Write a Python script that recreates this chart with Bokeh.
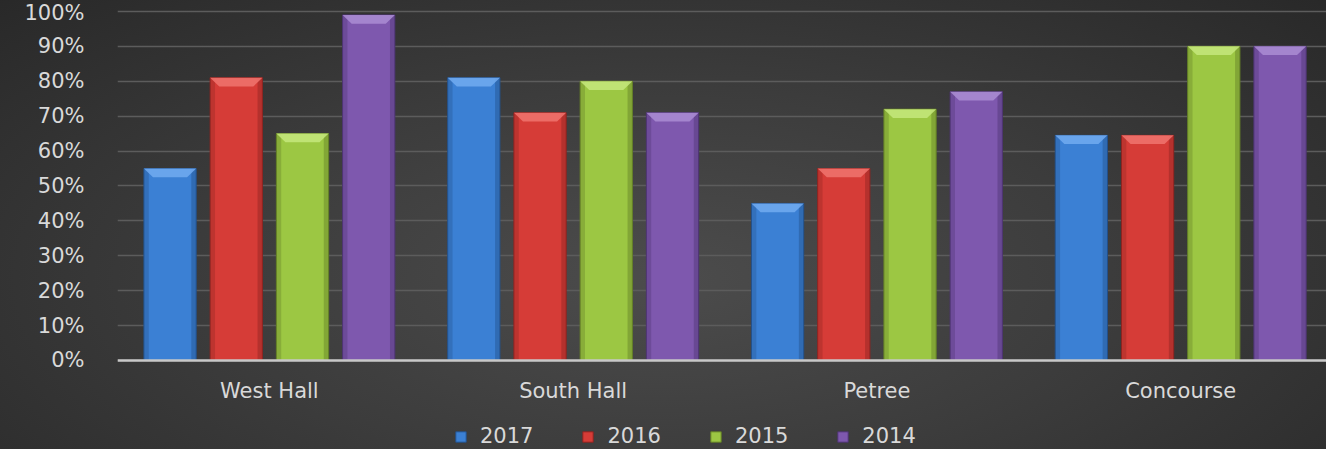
from bokeh.plotting import figure
from bokeh.models import (ColumnDataSource, FixedTicker, NumeralTickFormatter, Legend,
                          LegendItem, Range1d, InlineStyleSheet)
from bokeh.embed import file_html
from bokeh.resources import INLINE

categories = ["West Hall", "South Hall", "Petree", "Concourse"]
years = ["2017", "2016", "2015", "2014"]
y2017 = [0.55, 0.81, 0.45, 0.645]
y2016 = [0.81, 0.71, 0.55, 0.645]
y2015 = [0.65, 0.80, 0.72, 0.90]
y2014 = [0.99, 0.71, 0.77, 0.90]
y_ticks = [0.0, 0.1, 0.2, 0.3, 0.4, 0.5, 0.6, 0.7, 0.8, 0.9, 1.0]

series = [y2017, y2016, y2015, y2014]
colors = ["#3b80d4", "#d63c37", "#9cc743", "#7e58ae"]
edges = ["#24528c", "#8e2421", "#637f27", "#4e3573"]
lights = ["#6fa9ee", "#ee716c", "#c3e67a", "#a88bd2"]
offsets = [-0.327, -0.109, 0.109, 0.327]
bar_w = 0.172

css = InlineStyleSheet(css=""":host { background: radial-gradient(ellipse 75% 95% at 50% 62%, #4c4c4c 0%, #3c3c3c 45%, #262626 100%); }""")

p = figure(width=1326, height=449, output_backend="svg", toolbar_location=None,
           x_range=Range1d(0, 3.98), y_range=Range1d(-0.255, 1.017),
           min_border_left=117, min_border_right=0, min_border_top=5, min_border_bottom=0)
p.stylesheets = [css]
p.background_fill_alpha = 0
p.border_fill_alpha = 0
p.outline_line_color = None

items = []
for i, (vals, c, e, l, off) in enumerate(zip(series, colors, edges, lights, offsets)):
    xs = [k + 0.5 + off for k in range(len(categories))]
    src = ColumnDataSource(dict(x=xs, top=vals))
    r = p.vbar(x="x", top="top", width=bar_w, bottom=0, source=src,
               fill_color=c, line_color=e, line_width=1)
    # side shading strips
    p.vbar(x=[x - bar_w / 2 + 0.008 for x in xs], top=vals, width=0.016, bottom=0,
           fill_color=e, fill_alpha=0.35, line_color=None)
    p.vbar(x=[x + bar_w / 2 - 0.008 for x in xs], top=vals, width=0.016, bottom=0,
           fill_color=e, fill_alpha=0.45, line_color=None)
    # top bevel
    bx, by = [], []
    for x, t in zip(xs, vals):
        bx.append([x - bar_w / 2, x + bar_w / 2, x + bar_w / 2 - 0.03, x - bar_w / 2 + 0.03])
        by.append([t, t, t - 0.025, t - 0.025])
    p.patches(xs=bx, ys=by, fill_color=l, line_color=None, fill_alpha=0.9)
    items.append(LegendItem(label=years[i], renderers=[r]))

p.xgrid.grid_line_color = None
p.ygrid.grid_line_color = "#5c5c5c"
p.ygrid.grid_line_width = 1.5

p.yaxis.ticker = FixedTicker(ticks=y_ticks)
p.yaxis.formatter = NumeralTickFormatter(format="0%")
p.yaxis.axis_line_color = None
p.yaxis.major_tick_line_color = None
p.yaxis.minor_tick_line_color = None
p.yaxis.major_label_standoff = 27
p.yaxis.major_label_text_color = "#d9d9d9"
p.yaxis.major_label_text_font = "DejaVu Sans"
p.yaxis.major_label_text_font_size = "21px"

p.xaxis.fixed_location = 0
p.xaxis.ticker = FixedTicker(ticks=[k + 0.5 for k in range(len(categories))])
p.xaxis.major_label_overrides = {k + 0.5: c for k, c in enumerate(categories)}
p.xaxis.axis_line_color = "#c8c8c8"
p.xaxis.axis_line_width = 2.5
p.xaxis.major_tick_line_color = None
p.xaxis.minor_tick_line_color = None
p.xaxis.major_label_standoff = 13
p.xaxis.major_label_text_color = "#d9d9d9"
p.xaxis.major_label_text_font = "DejaVu Sans"
p.xaxis.major_label_text_font_size = "21px"

legend = Legend(items=items, orientation="horizontal", location=(337, 1),
                glyph_width=13, glyph_height=13, label_standoff=13, spacing=48,
                padding=0, margin=0, background_fill_alpha=0, border_line_color=None,
                label_text_color="#d9d9d9", label_text_font="DejaVu Sans",
                label_text_font_size="21px", label_height=20)
p.add_layout(legend, "center")

open("out.html", "w").write(file_html(p, INLINE))
